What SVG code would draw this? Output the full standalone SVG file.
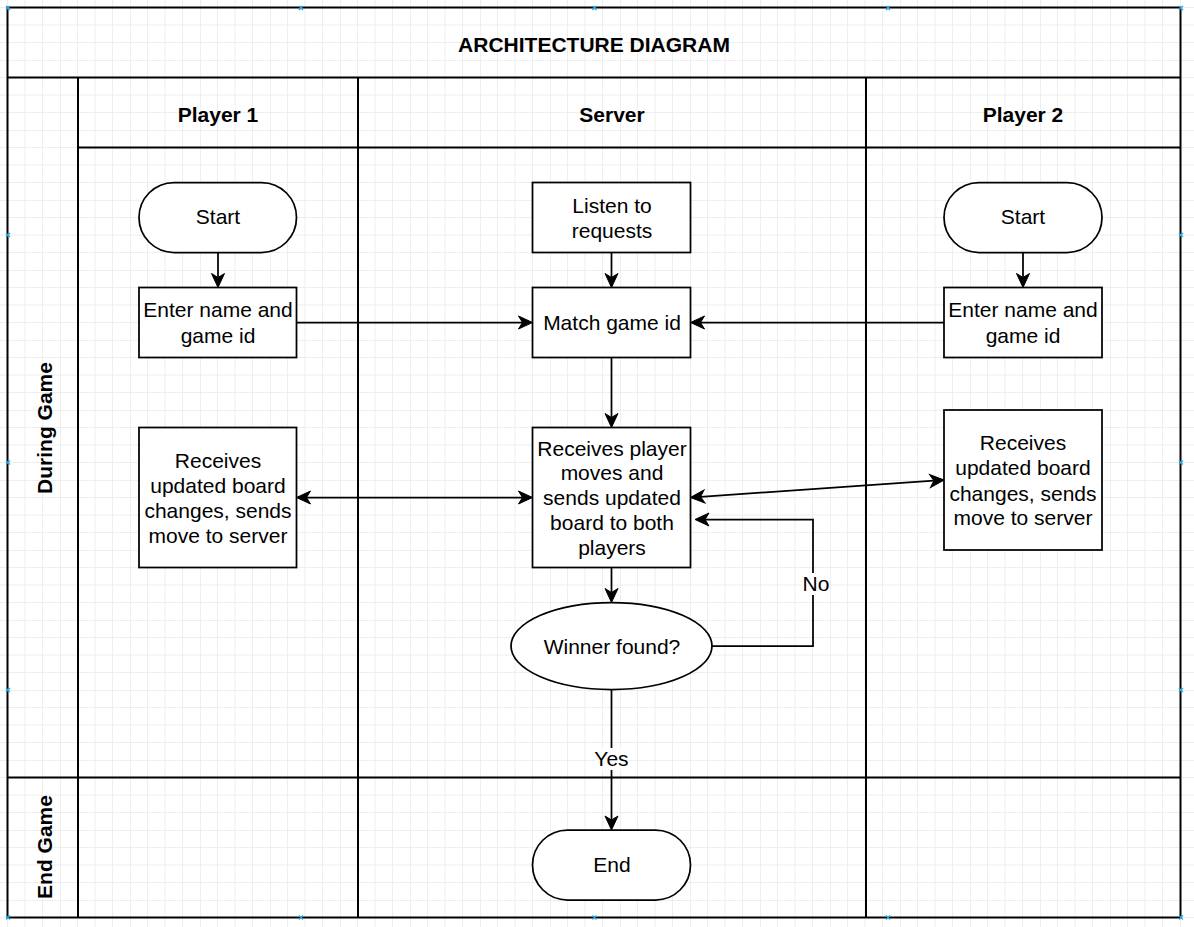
<svg xmlns="http://www.w3.org/2000/svg" width="1194" height="927" viewBox="0 0 1194 927">
<style>
text{font-family:"Liberation Sans",Arial,sans-serif;font-size:21px;fill:#000;text-anchor:middle;dominant-baseline:central}
.b{font-weight:bold}
.pool{fill:none;stroke:#000;stroke-width:2}
.node{fill:#fff;stroke:#000;stroke-width:1.75}
.edge{fill:none;stroke:#000;stroke-width:1.75}
.lbl{fill:#fff;stroke:none}
.hnd{fill:none;stroke:#29a8e0;stroke-width:1.2}
</style>
<defs>
<pattern id="grid" x="-10" y="-10" width="70" height="70" patternUnits="userSpaceOnUse">
<path d="M17.5,0V70M35,0V70M52.5,0V70M0,17.5H70M0,35H70M0,52.5H70" fill="none" stroke="#eeeeee" stroke-width="1"/>
<path d="M0,0V70M0,0H70" fill="none" stroke="#e0e0e0" stroke-width="1"/>
</pattern>
<marker id="arr" viewBox="-6 -8 18 16" refX="0" refY="0" markerWidth="18" markerHeight="16" markerUnits="userSpaceOnUse" orient="auto-start-reverse">
<path d="M10,0 L-4,-6.5 L0,0 L-4,6.5 Z" fill="#000" stroke="#000" stroke-width="1" stroke-linejoin="miter"/>
</marker>
</defs>
<rect x="0" y="0" width="1194" height="927" fill="#fff"/>
<rect x="0" y="0" width="1194" height="927" fill="url(#grid)"/>

<g id="pool">
<rect class="pool" x="7.5" y="7.5" width="1173" height="910"/>
<path class="pool" d="M7.5,77.5H1180.5M78,77.5V917.5M78,147.5H1180.5M358,77.5V917.5M866,77.5V917.5M7.5,777.5H1180.5"/>
<text class="b" x="594" y="44">ARCHITECTURE DIAGRAM</text>
<text class="b" x="218" y="114">Player 1</text>
<text class="b" x="612" y="114">Server</text>
<text class="b" x="1023" y="114">Player 2</text>
<text class="b" transform="translate(44,428) rotate(-90)">During Game</text>
<text class="b" transform="translate(44,847) rotate(-90)">End Game</text>
</g>

<g id="edges">
<path class="edge" d="M218,252.5V277.5" marker-end="url(#arr)"/>
<path class="edge" d="M611.5,252.5V277.5" marker-end="url(#arr)"/>
<path class="edge" d="M1023,252.5V277.5" marker-end="url(#arr)"/>
<path class="edge" d="M296.5,322.5H522.5" marker-end="url(#arr)"/>
<path class="edge" d="M944,322.5H700.5" marker-end="url(#arr)"/>
<path class="edge" d="M611.5,357.5V417.5" marker-end="url(#arr)"/>
<path class="edge" d="M306.5,497.5H522.5" marker-start="url(#arr)" marker-end="url(#arr)"/>
<path class="edge" d="M700.5,496.8L934,480.7" marker-start="url(#arr)" marker-end="url(#arr)"/>
<path class="edge" d="M611.5,567.5V592.5" marker-end="url(#arr)"/>
<path class="edge" d="M712,646H813V519.5H705" marker-end="url(#arr)"/>
<path class="edge" d="M611.5,689.5V820" marker-end="url(#arr)"/>
<rect class="lbl" x="802" y="573" width="28" height="22"/>
<text x="816" y="583">No</text>
<rect class="lbl" x="595" y="748" width="33" height="22"/>
<text x="611.5" y="758">Yes</text>
</g>

<g id="p1-start">
<rect class="node" x="139" y="182.5" width="157.5" height="70" rx="35" ry="35"/>
<text x="218" y="216">Start</text>
</g>
<g id="p1-enter">
<rect class="node" x="139" y="287.5" width="157.5" height="70"/>
<text x="218" y="309.5">Enter name and</text>
<text x="218" y="335">game id</text>
</g>
<g id="p1-receives">
<rect class="node" x="139" y="427.5" width="157.5" height="140"/>
<text x="218" y="460">Receives</text>
<text x="218" y="485">updated board</text>
<text x="218" y="510.5">changes, sends</text>
<text x="218" y="535">move to server</text>
</g>

<g id="srv-listen">
<rect class="node" x="532.5" y="182.5" width="158" height="70"/>
<text x="612" y="205">Listen to</text>
<text x="612" y="230.5">requests</text>
</g>
<g id="srv-match">
<rect class="node" x="532.5" y="287.5" width="158" height="70"/>
<text x="612" y="322">Match game id</text>
</g>
<g id="srv-receives">
<rect class="node" x="532.5" y="427.5" width="158" height="140"/>
<text x="612" y="448">Receives player</text>
<text x="612" y="472.5">moves and</text>
<text x="612" y="497.5">sends updated</text>
<text x="612" y="522.5">board to both</text>
<text x="612" y="547.5">players</text>
</g>
<g id="srv-winner">
<ellipse class="node" cx="611.5" cy="646" rx="100.5" ry="43.5"/>
<text x="612" y="646">Winner found?</text>
</g>
<g id="srv-end">
<rect class="node" x="532.5" y="830" width="158" height="70" rx="35" ry="35"/>
<text x="612" y="864">End</text>
</g>

<g id="p2-start">
<rect class="node" x="944" y="182.5" width="158" height="70" rx="35" ry="35"/>
<text x="1023" y="216">Start</text>
</g>
<g id="p2-enter">
<rect class="node" x="944" y="287.5" width="158" height="70"/>
<text x="1023" y="309.5">Enter name and</text>
<text x="1023" y="335">game id</text>
</g>
<g id="p2-receives">
<rect class="node" x="944" y="410" width="158" height="140"/>
<text x="1023" y="442.5">Receives</text>
<text x="1023" y="467.5">updated board</text>
<text x="1023" y="493">changes, sends</text>
<text x="1023" y="517.5">move to server</text>
</g>

<g id="handles">
<path class="hnd" d="M6,6l4,4m0,-4l-4,4M299,6l4,4m0,-4l-4,4M592.5,6l4,4m0,-4l-4,4M886,6l4,4m0,-4l-4,4M1179,6l4,4m0,-4l-4,4M6,233l4,4m0,-4l-4,4M6,460.5l4,4m0,-4l-4,4M6,688l4,4m0,-4l-4,4M6,915.5l4,4m0,-4l-4,4M299,915.5l4,4m0,-4l-4,4M592.5,915.5l4,4m0,-4l-4,4M886,915.5l4,4m0,-4l-4,4M1179,915.5l4,4m0,-4l-4,4M1179,233l4,4m0,-4l-4,4M1179,460.5l4,4m0,-4l-4,4M1179,688l4,4m0,-4l-4,4"/>
</g>
</svg>
